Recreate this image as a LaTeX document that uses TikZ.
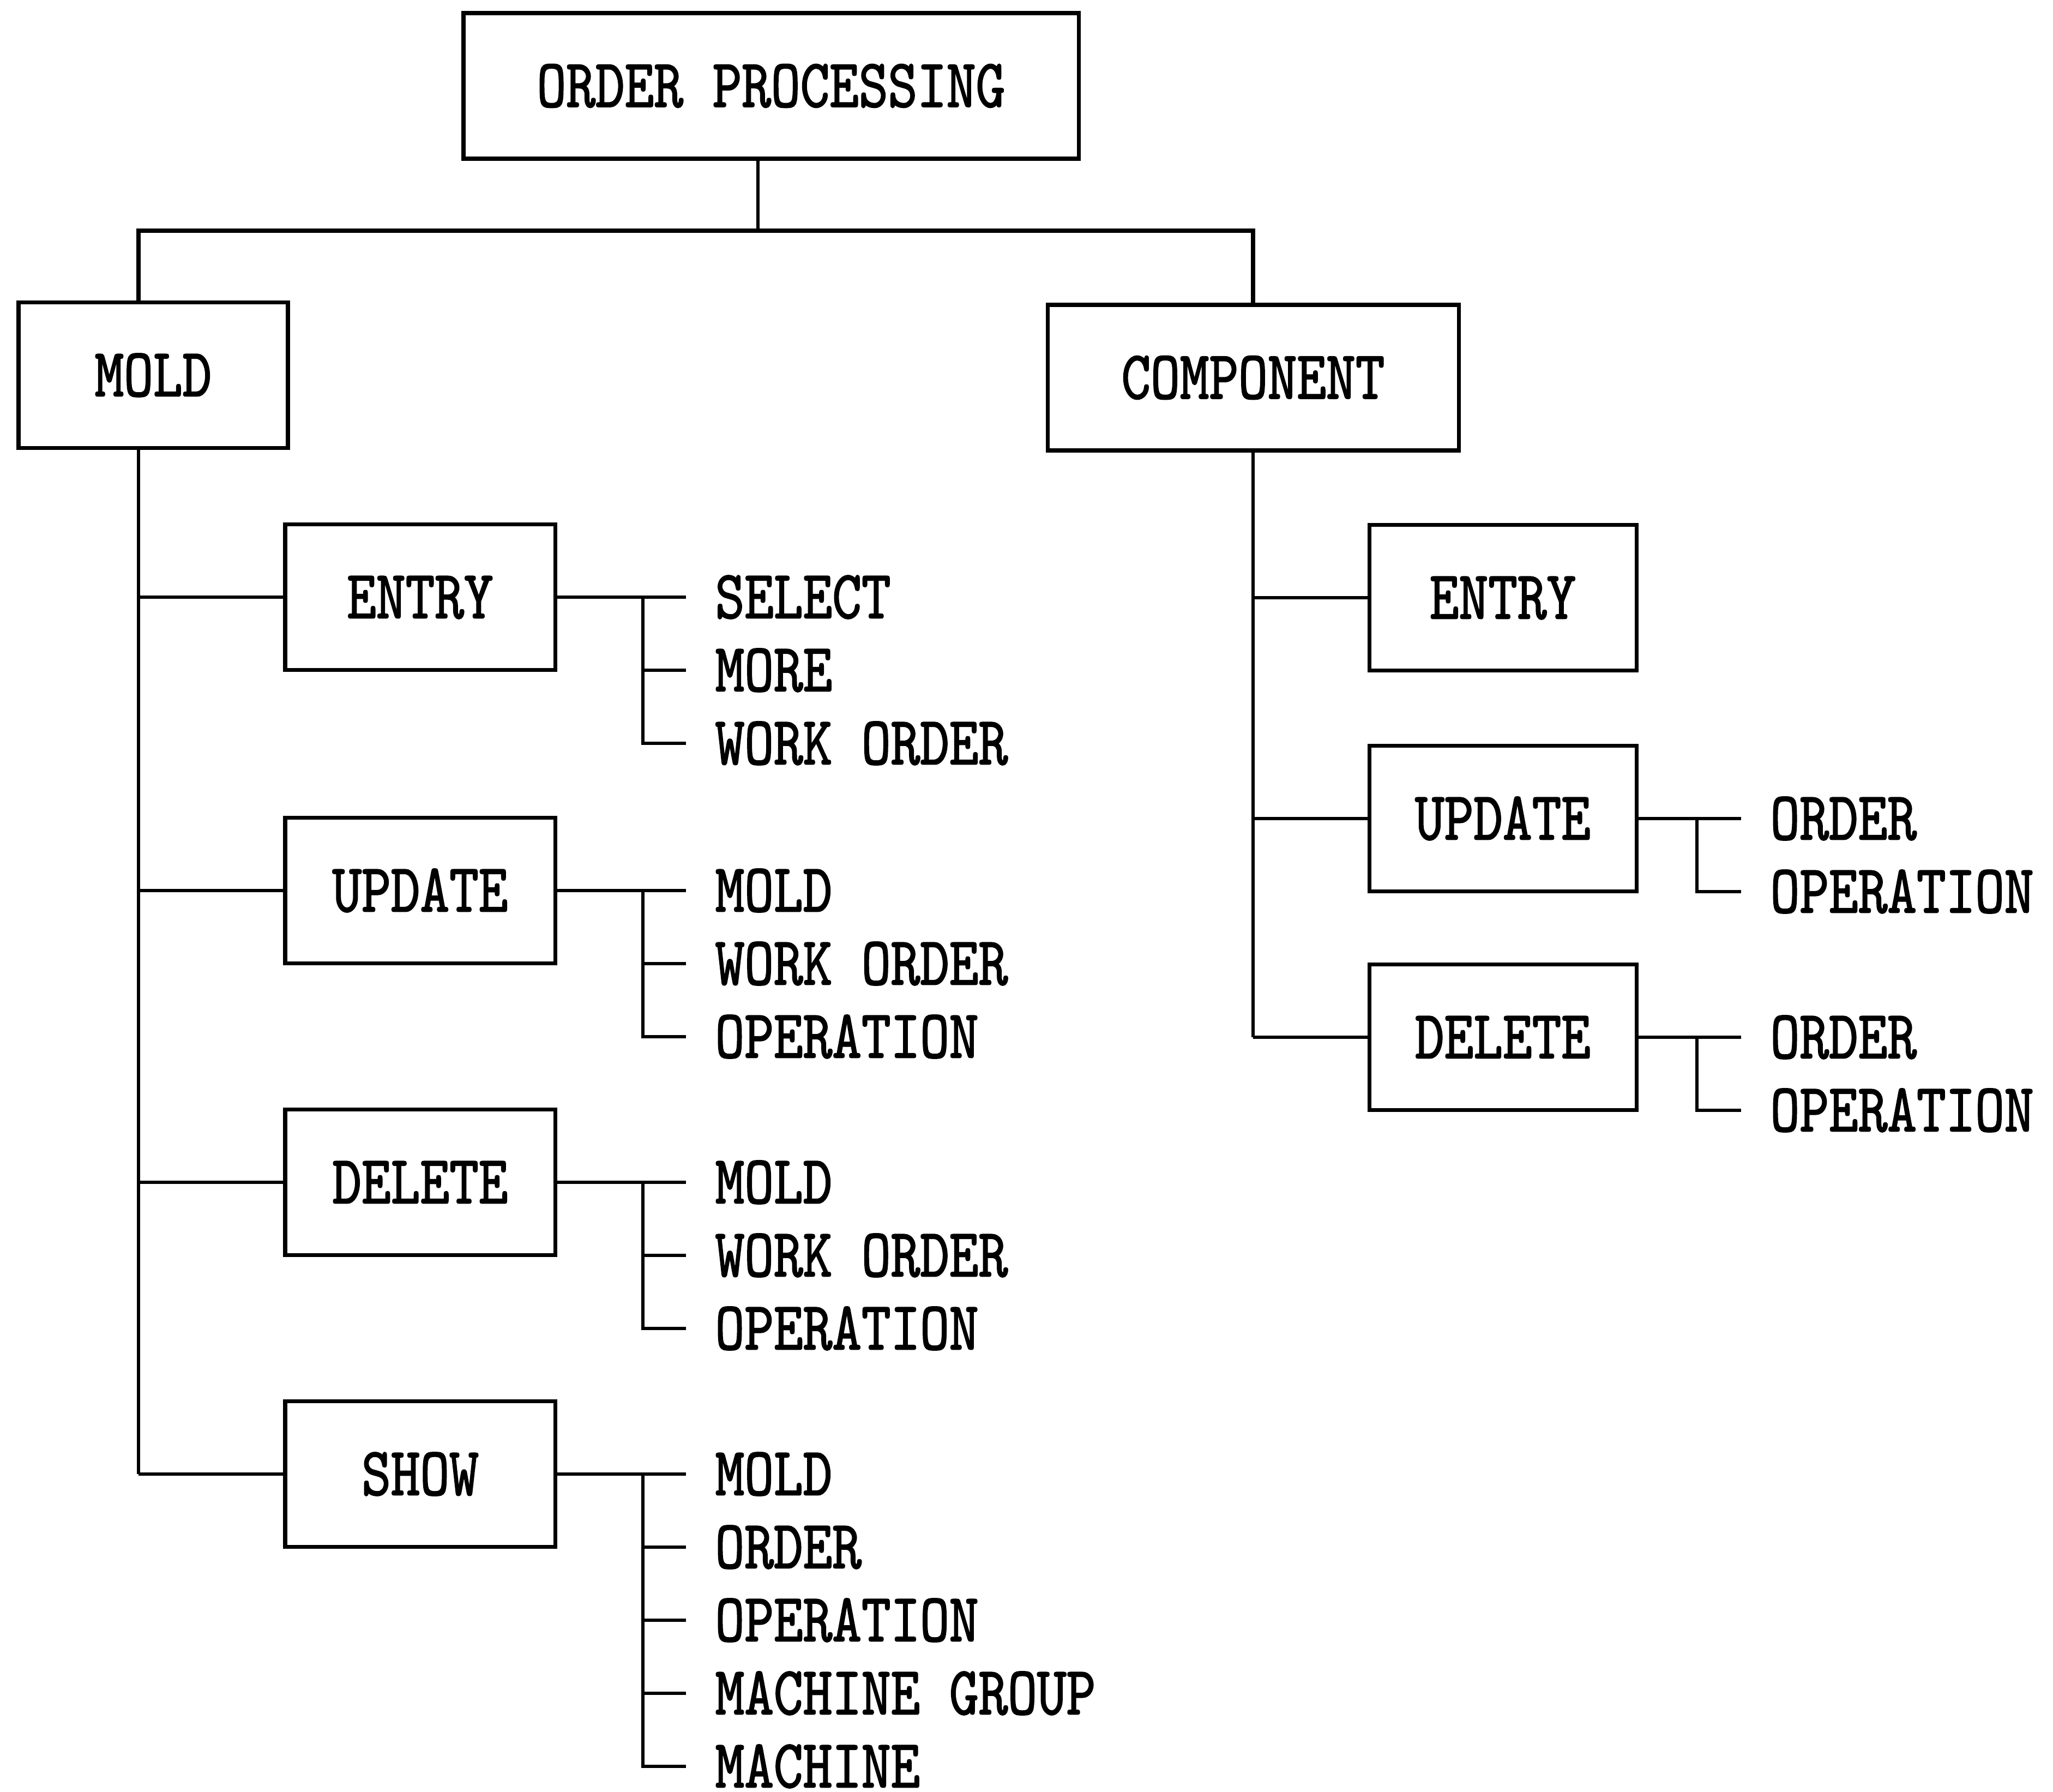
\documentclass[tikz,border=0pt]{standalone}
\usepackage{fontspec}
\newfontfamily\diafont[FakeStretch=0.81,FakeBold=1.5]{lmmono10-regular.otf}
\begin{document}
\begin{tikzpicture}[x=1cm,y=1cm,
  dfont/.style={font=\diafont\fontsize{35.9pt}{40pt}\selectfont},
  box/.style={draw, line width=2pt, inner sep=0pt, minimum height=2.67cm,
    text height=0.77cm, text depth=0pt, dfont},
  item/.style={anchor=west, inner sep=0pt, text height=0.77cm, text depth=0pt, dfont},
  link/.style={line width=1.7pt},
  bus/.style={line width=2.2pt}]
\useasboundingbox (0,0) rectangle (37.65,-32.86);

\node[box, minimum width=11.28cm] (op) at (14.14,-1.575) {ORDER PROCESSING};
\node[box, minimum width=4.94cm] (mold) at (2.81,-6.88) {MOLD};
\node[box, minimum width=7.54cm] (comp) at (22.98,-6.925) {COMPONENT};

\node[box, minimum width=4.95cm] (me) at (7.705,-10.95) {ENTRY};
\node[box, minimum width=4.95cm] (mu) at (7.705,-16.33) {UPDATE};
\node[box, minimum width=4.95cm] (md) at (7.705,-21.68) {DELETE};
\node[box, minimum width=4.95cm] (ms) at (7.705,-27.03) {SHOW};

\node[box, minimum width=4.9cm] (ce) at (27.56,-10.96) {ENTRY};
\node[box, minimum width=4.9cm] (cu) at (27.56,-15.01) {UPDATE};
\node[box, minimum width=4.9cm] (cd) at (27.56,-19.02) {DELETE};

% top bus
\coordinate (bus) at (13.90,-4.23);
\coordinate (spine) at (2.54,0);
\draw[link] (bus |- op.south) -- (bus);
\draw[bus] (spine |- mold.north) -- (spine |- bus) -- (comp.north |- bus) -- (comp.north);

% mold spine
\draw[link] (spine |- mold.south) -- (spine |- ms.west);
\foreach \b in {me,mu,md,ms} \draw[link] (spine |- \b.west) -- (\b.west);

% component spine
\draw[link] (comp.south) -- (comp.south |- cd.west);
\foreach \b in {ce,cu,cd} \draw[link] (comp.south |- \b.west) -- (\b.west);

% item lists
\foreach \b/\y/\bx/\tx/\labels in {
   me/10.95/11.79/13.11/{SELECT,MORE,WORK ORDER},
   mu/16.33/11.79/13.11/{MOLD,WORK ORDER,OPERATION},
   md/21.68/11.79/13.11/{MOLD,WORK ORDER,OPERATION},
   ms/27.03/11.79/13.11/{MOLD,ORDER,OPERATION,MACHINE GROUP,MACHINE},
   cu/15.01/31.12/32.46/{ORDER,OPERATION},
   cd/19.02/31.12/32.46/{ORDER,OPERATION}} {
  \coordinate (\b br) at (\bx,-\y);
  \draw[link] (\b.east) -- (\b br);
  \foreach \l [count=\i] in \labels {
    \node[item] (\b\i) at (\tx,-\y-1.34*\i+1.34) {\l};
    \draw[link] (\b br) -- (\b br |- \b\i.west) -- ([xshift=-0.53cm]\b\i.west);
  }
}
\end{tikzpicture}
\end{document}
